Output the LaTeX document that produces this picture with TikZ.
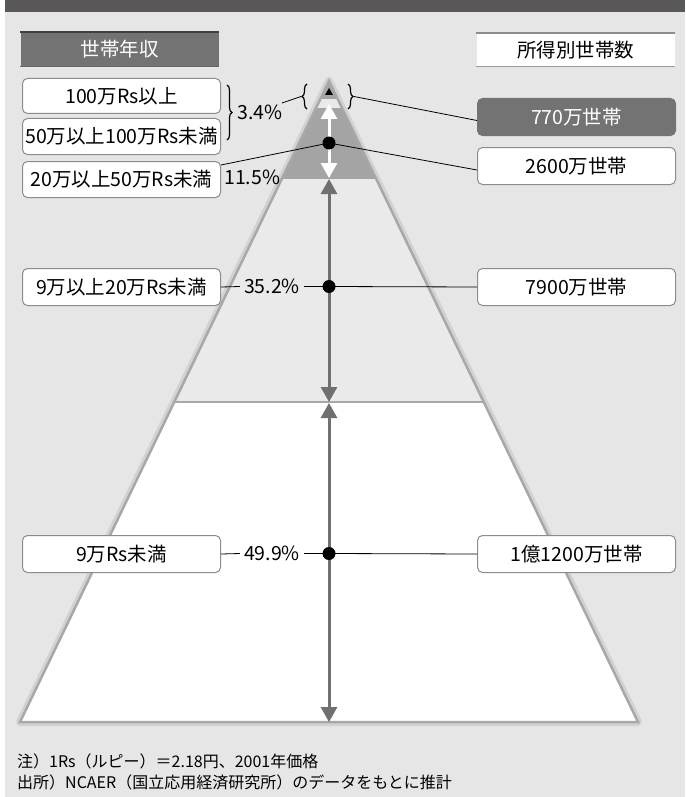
\documentclass[tikz,border=0pt]{standalone}
\usepackage{fontspec}
\setmainfont{Noto Sans CJK JP}
\usetikzlibrary{arrows.meta,decorations.pathreplacing}
\definecolor{bgc}{HTML}{E6E6E6}
\definecolor{titlebar}{HTML}{595757}
\definecolor{darkL}{HTML}{A4A4A4}
\definecolor{bandL}{HTML}{E9E9E9}
\definecolor{midL}{HTML}{EAEAEA}
\definecolor{edgec}{HTML}{A8A8A8}
\definecolor{glowc}{HTML}{D2D2D2}
\definecolor{arrowgray}{HTML}{707070}
\definecolor{boxdark}{HTML}{737373}
\definecolor{boxline}{HTML}{8C8C8C}
\begin{document}
\begin{tikzpicture}[x=1pt,y=-1pt,
  txt/.style={font=\fontsize{19.5}{19.5}\selectfont},
  lbox/.style={txt,draw=boxline,line width=1pt,fill=white,rounded corners=5pt,
    minimum width=198pt,minimum height=36pt,inner sep=0pt,anchor=north west},
  dbox/.style={lbox,fill=boxdark,draw=boxdark,text=white},
  pct/.style={txt,inner sep=4pt},
  conn/.style={draw=black,line width=0.8pt},
  gar/.style={draw=arrowgray,line width=3pt,
    {Triangle[length=15pt,width=16pt,fill=arrowgray]}-{Triangle[length=15pt,width=16pt,fill=arrowgray]}},
  war/.style={draw=white,line width=3pt,
    {Triangle[length=15pt,width=16pt,fill=white]}-{Triangle[length=15pt,width=16pt,fill=white]}},
  dotn/.style={circle,fill=black,inner sep=0pt,minimum size=13pt},
  brc/.style={draw=black,line width=1.2pt,decorate,decoration={brace,amplitude=5pt}},
  note/.style={font=\fontsize{16}{16}\selectfont,anchor=west,inner sep=0pt}
]
\useasboundingbox (0,0) rectangle (685,797);
% background
\fill[white] (0,0) rectangle (685,797);
\fill[bgc] (5,12) rectangle (685,797);
\fill[titlebar] (5,0) rectangle (685,12);

% pyramid
\coordinate (apex) at (329,81);
\coordinate (bl) at (20,722);
\coordinate (br) at (638,722);
\draw[glowc,line width=8pt,line join=round] (apex) -- (bl) -- (br) -- cycle;
\begin{scope}
\clip (apex) -- (bl) -- (br) -- cycle;
\fill[darkL] (0,70) rectangle (685,99);
\fill[bandL] (0,99) rectangle (685,108);
\fill[darkL] (0,108) rectangle (685,179);
\fill[midL] (0,179) rectangle (685,402);
\fill[white] (0,402) rectangle (685,722);
\end{scope}
\draw[edgec,line width=2.5pt] (174,402) -- (484,402);
\draw[edgec,line width=2.5pt,line join=miter] (apex) -- (bl) -- (br) -- cycle;

% arrows
\fill[black] (329,88) -- (325,95) -- (333,95) -- cycle;
\coordinate (w1) at (329,104);
\coordinate (w2) at (329,178);
\draw[war] (w1) -- (w2);
\coordinate (g1) at (329,179);
\coordinate (g2) at (329,402);
\coordinate (g3) at (329,403);
\coordinate (g4) at (329,722);
\draw[gar] (g1) -- (g2);
\draw[gar] (g3) -- (g4);

% headers
\node[dbox,rounded corners=0pt,draw=none,minimum height=34pt] (hl) at (20,32) {世帯年収};
\draw[black!75,line width=2pt] (hl.north west) -- (hl.north east);
\draw[black!60,line width=1pt] (hl.south west) -- (hl.south east);
\node[lbox,rounded corners=0pt,draw=none,minimum height=33pt] (hr) at (476,33) {所得別世帯数};
\draw[black!45,line width=2.5pt] (hr.north west) -- (hr.north east);
\draw[black!40,line width=1pt] (hr.south west) -- (hr.south east);

% left boxes
\node[lbox,minimum height=35pt] (b1) at (22,78) {100万Rs以上};
\node[lbox] (b2) at (22,118) {50万以上100万Rs未満};
\node[lbox] (b3) at (22,161) {20万以上50万Rs未満};
\node[lbox,minimum height=37pt] (b4) at (22,268) {9万以上20万Rs未満};
\node[lbox,minimum height=37pt] (b5) at (22,535) {9万Rs未満};

% right boxes
\node[dbox,minimum height=37pt] (r1) at (477,98) {770万世帯};
\node[lbox,minimum height=37pt] (r2) at (477,147) {2600万世帯};
\node[lbox,minimum height=37pt] (r4) at (477,268) {7900万世帯};
\node[lbox,minimum height=37pt] (r5) at (477,535) {1億1200万世帯};

% dots
\node[dotn] (d3) at (329,143) {};
\node[dotn] (d4) at (329,286.5) {};
\node[dotn] (d5) at (329,553.5) {};

% braces and percentages
\coordinate (bra1) at (227,85);
\coordinate (bra2) at (227,140);
\draw[brc] (bra1) -- (bra2);
\node[txt,inner sep=0pt,anchor=west] (p34) at (237,112) {3.4\%};
\coordinate (bl1) at (307,109);
\coordinate (bl2) at (307,84);
\draw[brc] (bl1) -- (bl2);
\coordinate (br1) at (348,84);
\coordinate (br2) at (348,109);
\draw[brc] (br1) -- (br2);
\coordinate (blt) at (301,96.5);
\coordinate (brt) at (354,96.5);
\coordinate (p34c) at (282,103);
\draw[conn] (blt) -- (p34c);
\draw[conn] (brt) -- ([yshift=-3.5pt]r1.west);

\node[txt,inner sep=0pt,anchor=west] (p115) at (224,177) {11.5\%};
\draw[conn] ([yshift=-4pt]b3.north east) -- (d3.center);
\draw[conn] (d3.center) -- ([yshift=-4pt]r2.west);

\node[pct] (p352) at (272,286.5) {35.2\%};
\draw[conn] (b4.east) -- (p352.west);
\draw[conn] (p352.east) -- (d4.center) -- (r4.west);

\node[pct] (p499) at (272,553.5) {49.9\%};
\draw[conn] (b5.east) -- (p499.west);
\draw[conn] (p499.east) -- (d5.center) -- (r5.west);

% notes
\node[note] (n1) at (17,761) {注）1Rs（ルピー）＝2.18円、2001年価格};
\node[note] (n2) at (17,782) {出所）NCAER（国立応用経済研究所）のデータをもとに推計};
\end{tikzpicture}
\end{document}
